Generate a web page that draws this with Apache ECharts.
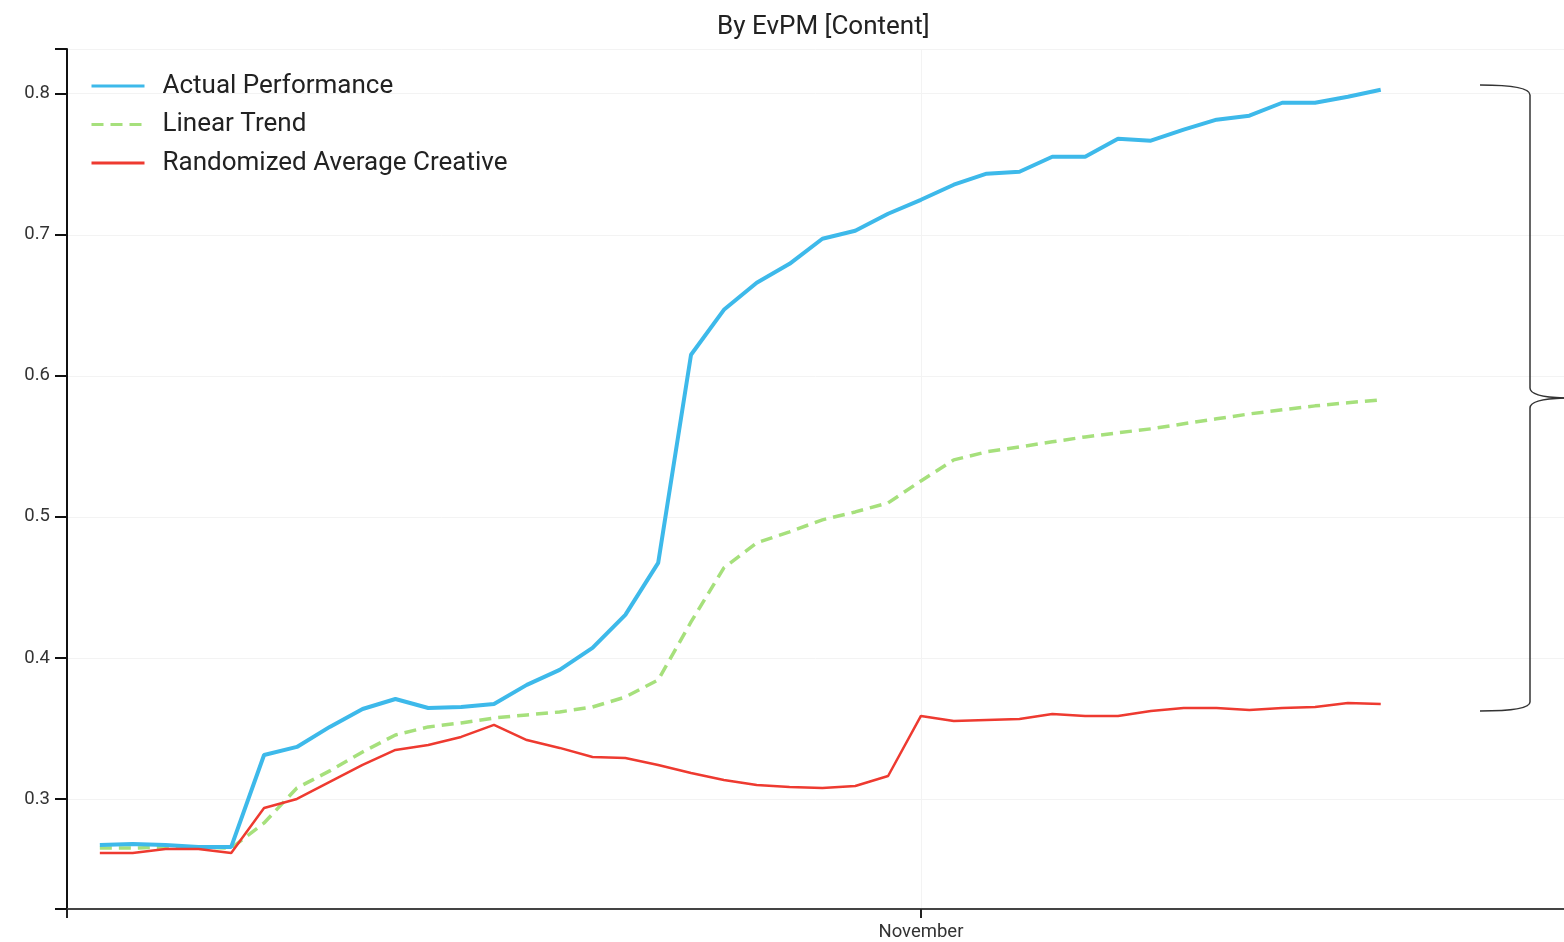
<!DOCTYPE html>
<html>
<head>
<meta charset="utf-8">
<title>By EvPM [Content]</title>
<script src="https://cdn.jsdelivr.net/npm/echarts@6/dist/echarts.min.js"></script>
<style>
  html, body { margin: 0; padding: 0; background: #fff; }
  #chart { width: 1564px; height: 942px; }
</style>
</head>
<body>
<div id="chart"></div>
<script>
// Daily dates, Oct 7 – Nov 15
const dates = [
  '2019-10-07','2019-10-08','2019-10-09','2019-10-10','2019-10-11','2019-10-12','2019-10-13','2019-10-14',
  '2019-10-15','2019-10-16','2019-10-17','2019-10-18','2019-10-19','2019-10-20','2019-10-21','2019-10-22',
  '2019-10-23','2019-10-24','2019-10-25','2019-10-26','2019-10-27','2019-10-28','2019-10-29','2019-10-30',
  '2019-10-31','2019-11-01','2019-11-02','2019-11-03','2019-11-04','2019-11-05','2019-11-06','2019-11-07',
  '2019-11-08','2019-11-09','2019-11-10','2019-11-11','2019-11-12','2019-11-13','2019-11-14','2019-11-15'
];

const actualPerformance = [
  0.2674, 0.2681, 0.2674, 0.2660, 0.2660, 0.3312, 0.3369, 0.3511,
  0.3638, 0.3709, 0.3645, 0.3652, 0.3674, 0.3809, 0.3915, 0.4071,
  0.4305, 0.4674, 0.6149, 0.6468, 0.6660, 0.6794, 0.6972, 0.7028,
  0.7149, 0.7248, 0.7355, 0.7433, 0.7447, 0.7553, 0.7553, 0.7681,
  0.7667, 0.7745, 0.7816, 0.7844, 0.7936, 0.7936, 0.7979, 0.8028
];

const linearTrend = [
  0.2652, 0.2652, 0.2660, 0.2660, 0.2652, 0.2830, 0.3078, 0.3199,
  0.3333, 0.3454, 0.3511, 0.3539, 0.3574, 0.3596, 0.3617, 0.3652,
  0.3723, 0.3844, 0.4255, 0.4638, 0.4816, 0.4894, 0.4979, 0.5035,
  0.5099, 0.5255, 0.5404, 0.5461, 0.5496, 0.5532, 0.5567, 0.5596,
  0.5624, 0.5660, 0.5695, 0.5730, 0.5759, 0.5787, 0.5809, 0.5830
];

const randomizedAverage = [
  0.2617, 0.2617, 0.2645, 0.2645, 0.2617, 0.2936, 0.3000, 0.3121,
  0.3241, 0.3348, 0.3383, 0.3440, 0.3525, 0.3418, 0.3362, 0.3298,
  0.3291, 0.3241, 0.3184, 0.3135, 0.3099, 0.3085, 0.3078, 0.3092,
  0.3163, 0.3589, 0.3553, 0.3560, 0.3567, 0.3603, 0.3589, 0.3589,
  0.3624, 0.3645, 0.3645, 0.3631, 0.3645, 0.3652, 0.3681, 0.3674
];

const yTicks = [0.3, 0.4, 0.5, 0.6, 0.7, 0.8];
const monthTicks = ['2019-11-01'];
const monthNames = ['November'];

// x is measured in days since the first date
const DAY = 86400000;
const t0 = Date.parse(dates[0] + 'T00:00:00Z');
const dayOf = d => Math.round((Date.parse(d + 'T00:00:00Z') - t0) / DAY);
const xMin = -1;
const xMax = 44.58;
const yMin = 0.222;
const yMax = 0.8317;
const monthDays = monthTicks.map(dayOf);

const pairs = vals => vals.map((v, i) => [dayOf(dates[i]), v]);

const chart = echarts.init(document.getElementById('chart'), null, { renderer: 'canvas' });

const FONT = 'Roboto, "Helvetica Neue", Arial, sans-serif';

// curly brace at the right edge, built from curves and straight runs
const braceStyle = { stroke: '#333', lineWidth: 1.5, fill: 'none' };
const brace = [
  { type: 'bezierCurve', shape: { x1: 1480, y1: 85, cpx1: 1530, cpy1: 85, x2: 1530, y2: 95 } },
  { type: 'line', shape: { x1: 1530, y1: 95, x2: 1530, y2: 388 } },
  { type: 'bezierCurve', shape: { x1: 1530, y1: 388, cpx1: 1530, cpy1: 397, x2: 1565, y2: 398 } },
  { type: 'bezierCurve', shape: { x1: 1565, y1: 398, cpx1: 1530, cpy1: 399, x2: 1530, y2: 408 } },
  { type: 'line', shape: { x1: 1530, y1: 408, x2: 1530, y2: 702 } },
  { type: 'bezierCurve', shape: { x1: 1530, y1: 702, cpx1: 1530, cpy1: 711, x2: 1480, y2: 711 } }
].map(el => Object.assign(el, { silent: true, z: 100, style: braceStyle }));

chart.setOption({
  animation: false,
  backgroundColor: '#ffffff',
  title: {
    text: 'By EvPM [Content]',
    left: 712,
    top: 9,
    textStyle: { fontFamily: FONT, fontSize: 26, fontWeight: 'normal', color: '#222' }
  },
  legend: {
    orient: 'vertical',
    left: 90,
    top: 71,
    padding: 0,
    itemWidth: 53,
    itemHeight: 30,
    itemGap: 8.5,
    itemStyle: { opacity: 0 },
    lineStyle: { width: 3 },
    textStyle: {
      fontFamily: FONT,
      fontSize: 26,
      color: '#222',
      lineHeight: 30,
      padding: [0, 0, 0, 13]
    },
    data: ['Actual Performance', 'Linear Trend', 'Randomized Average Creative']
  },
  grid: { left: 67, right: 0, top: 49, bottom: 33, containLabel: false },
  xAxis: {
    type: 'value',
    min: xMin,
    max: xMax,
    axisLine: { show: true, onZero: false, lineStyle: { color: '#444', width: 2 } },
    axisTick: {
      show: true,
      length: 9,
      customValues: [xMin].concat(monthDays),
      lineStyle: { color: '#222', width: 2 }
    },
    axisLabel: {
      show: true,
      customValues: monthDays,
      formatter: v => {
        const k = monthDays.indexOf(Math.round(v));
        return k >= 0 ? monthNames[k] : '';
      },
      fontFamily: FONT,
      fontSize: 18.5,
      color: '#333',
      margin: 14
    },
    splitLine: { show: true, lineStyle: { color: '#f3f3f3', width: 1 } }
  },
  yAxis: {
    type: 'value',
    min: yMin,
    max: yMax,
    axisLine: { show: true, onZero: false, lineStyle: { color: '#111', width: 2 } },
    axisTick: {
      show: true,
      length: 12,
      customValues: [yMin].concat(yTicks, [yMax]),
      lineStyle: { color: '#111', width: 2 }
    },
    axisLabel: {
      show: true,
      customValues: yTicks,
      formatter: v => v.toFixed(1),
      fontFamily: FONT,
      fontSize: 18.5,
      color: '#333',
      margin: 17
    },
    splitLine: { show: true, lineStyle: { color: '#f3f3f3', width: 1 } }
  },
  series: [
    {
      name: 'Actual Performance',
      type: 'line',
      data: pairs(actualPerformance),
      symbol: 'none',
      color: '#3db9ea',
      lineStyle: { color: '#3db9ea', width: 4 },
      z: 3
    },
    {
      name: 'Linear Trend',
      type: 'line',
      data: pairs(linearTrend),
      symbol: 'none',
      color: '#a6e07c',
      lineStyle: { color: '#a6e07c', width: 3.5, type: [12, 7] },
      z: 2
    },
    {
      name: 'Randomized Average Creative',
      type: 'line',
      data: pairs(randomizedAverage),
      symbol: 'none',
      color: '#ee3a30',
      lineStyle: { color: '#ee3a30', width: 2.5 },
      z: 4
    }
  ],
  graphic: brace
});
</script>
</body>
</html>
